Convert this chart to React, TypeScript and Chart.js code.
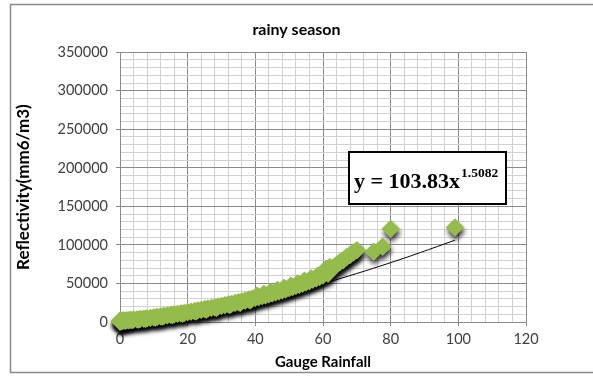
import React, { useEffect, useRef } from 'react';
import { Chart, registerables } from 'chart.js';

Chart.register(...registerables);

// Scatter data: gauge rainfall vs reflectivity
const rainfall = [
  0, 0, 0.2, 0.5, 0.8, 1, 1.5, 2, 2.5, 3, 3.5, 4, 5, 5.5, 6, 7, 7.5, 8, 9, 10,
  10.5, 11, 12, 12.5, 13, 14, 15, 15.5, 16, 17, 18, 18.5, 19, 20, 21, 22, 22.5, 23, 24, 25,
  25.5, 26, 27, 28, 28.5, 29, 30, 31, 32, 32.5, 33, 34, 35, 35.5, 36, 37, 38, 38.5, 39, 40,
  40.5, 41, 42, 42.5, 43, 44, 44.5, 45, 46, 46.5, 47, 48, 48.5, 49, 50, 50.5, 51, 52, 52.5, 53,
  54, 54.5, 55, 56, 56.5, 57, 58, 58.5, 59, 60, 60.5, 61, 61.5, 62, 63, 64, 65, 66, 67, 68,
  69, 70, 75, 77.6, 80, 99,
];
const reflectivity = [
  0, 1200, 2000, 600, 1500, 1800, 1200, 2200, 1900, 2600, 2300, 2900, 3300, 3000, 3800, 4200, 3900, 4700, 5200, 5900,
  5600, 6500, 7100, 6800, 7700, 8300, 9000, 8600, 9700, 10300, 11100, 10600, 11800, 12500, 13200, 14000, 13500, 14800, 15500, 16400,
  15800, 17200, 18000, 18900, 18300, 19800, 20700, 21600, 22600, 21900, 23500, 24500, 25500, 24700, 26600, 27700, 28800, 28000, 29900, 31000,
  34000, 32100, 33300, 36300, 34500, 35700, 38700, 37000, 38300, 41500, 39600, 40900, 44000, 42300, 43700, 47000, 45100, 46600, 50000, 48100,
  49700, 53500, 51300, 53000, 56500, 54700, 56500, 60000, 58300, 60200, 65500, 69000, 62500, 71000, 70000, 74000, 77500, 80000, 84000, 87000,
  90000, 93000, 91000, 97500, 120500, 122500,
];

// Power trend line y = 103.83x^1.5082
const trendX = [0.5, 2, 5, 10, 15, 20, 25, 30, 35, 40, 45, 50, 55, 60, 65, 70, 75, 80, 85, 90, 95, 99];
const trendY = [36, 295, 1176, 3347, 6168, 9520, 13330, 17550, 22140, 27070, 32340, 37900, 43760, 49880, 56280, 62930, 69830, 77000, 84350, 92010, 99810, 106100];

const chartTitle = 'rainy season';
const xTitle = 'Gauge Rainfall';
const yTitle = 'Reflectivity(mm6/m3)';
const eqMain = 'y = 103.83x';
const eqExp = '1.5082';

const xMin = 0, xMax = 120, xMinor = 4, xMajor = 20;
const yMin = 0, yMax = 350000, yMinor = 10000, yMajor = 50000;

const MAJOR = '#8a8a8a';
const MINOR = '#d2d2d2';
const GREEN = '#94bb4c';

export default function App() {
  const ref = useRef<HTMLCanvasElement>(null);

  useEffect(() => {
    document.body.style.margin = '0';
    const canvas = ref.current;
    if (!canvas) return;

    // draw all marker shadows first, then the markers themselves on top
    const shadowPlugin = {
      id: 'markerShadow',
      beforeDatasetDraw(chart: any, args: any) {
        if (args.index !== 0) return;
        const c = chart.ctx;
        const meta = chart.getDatasetMeta(0);
        c.save();
        c.shadowColor = 'rgba(0,0,0,0.8)';
        c.shadowBlur = 5;
        c.shadowOffsetX = 1;
        c.shadowOffsetY = 4;
        meta.data.forEach((el: any) => el.draw(c, chart.chartArea));
        c.restore();
      },
    };

    const decorPlugin = {
      id: 'decor',
      beforeDraw(chart: any) {
        const c = chart.ctx;
        c.save();
        c.fillStyle = '#ffffff';
        c.fillRect(0, 0, chart.width, chart.height);
        c.strokeStyle = '#8c8c8c';
        c.lineWidth = 1.5;
        c.strokeRect(10.5, 4.5, chart.width + 20, 368);
        c.restore();
      },
      afterDraw(chart: any) {
        const c = chart.ctx;
        c.save();
        const bx = 349, by = 152, bw = 157, bh = 52;
        c.fillStyle = '#ffffff';
        c.fillRect(bx, by, bw, bh);
        c.strokeStyle = '#000000';
        c.lineWidth = 2;
        c.strokeRect(bx, by, bw, bh);
        c.fillStyle = '#000000';
        c.textBaseline = 'alphabetic';
        c.textAlign = 'left';
        c.font = 'bold 22px "Liberation Serif", "DejaVu Serif", serif';
        c.fillText(eqMain, 354, 188);
        const w = c.measureText(eqMain).width;
        c.font = 'bold 13.5px "Liberation Serif", "DejaVu Serif", serif';
        c.fillText(eqExp, 354 + w + 1, 177);
        c.restore();
      },
    };

    const chart = new Chart(canvas, {
      type: 'scatter',
      data: {
        datasets: [
          {
            label: 'data',
            data: rainfall.map((x, i) => ({ x, y: reflectivity[i] })),
            pointStyle: 'rectRot',
            pointRadius: 9,
            pointHoverRadius: 9,
            backgroundColor: GREEN,
            borderColor: GREEN,
            pointBorderWidth: 0,
            borderWidth: 0,
            clip: false,
          } as any,
          {
            label: 'trend',
            type: 'line',
            data: trendX.map((x, i) => ({ x, y: trendY[i] })),
            borderColor: '#000000',
            borderWidth: 1,
            pointRadius: 0,
            fill: false,
            tension: 0.3,
            clip: false,
          } as any,
        ],
      },
      options: {
        animation: false,
        responsive: false,
        events: [],
        layout: { padding: 0 },
        plugins: {
          legend: { display: false },
          tooltip: { enabled: false },
          title: {
            display: true,
            text: chartTitle,
            color: '#000000',
            font: { family: 'Lato', size: 16, weight: 700 },
            padding: { top: 20, bottom: 13 },
          },
        },
        scales: {
          x: {
            type: 'linear',
            min: xMin,
            max: xMax,
            afterFit(s: any) { s.height = 54; },
            ticks: {
              stepSize: xMinor,
              autoSkip: false,
              maxRotation: 0,
              padding: 5,
              color: '#404040',
              font: { family: 'Lato', size: 14.5 },
              callback: (v: any) => (Number(v) % xMajor === 0 ? String(v) : ''),
            },
            grid: {
              color: (ctx: any) => (ctx.tick && ctx.tick.value % xMajor === 0 ? MAJOR : MINOR),
              tickColor: (ctx: any) => (ctx.tick && ctx.tick.value % xMajor === 0 ? MAJOR : 'rgba(0,0,0,0)'),
              tickLength: 4,
              lineWidth: 1,
            },
            border: { display: true, color: MAJOR, width: 1 },
            title: {
              display: true,
              text: xTitle,
              color: '#000000',
              font: { family: 'Lato', size: 15, weight: 700 },
              padding: { top: 0, bottom: 5 },
            },
          },
          y: {
            type: 'linear',
            min: yMin,
            max: yMax,
            afterFit(s: any) { s.width = 120; },
            ticks: {
              stepSize: yMinor,
              autoSkip: false,
              padding: 8,
              color: '#404040',
              font: { family: 'Lato', size: 14.5 },
              callback: (v: any) => (Number(v) % yMajor === 0 ? String(v) : ''),
            },
            grid: {
              color: (ctx: any) => (ctx.tick && ctx.tick.value % yMajor === 0 ? MAJOR : MINOR),
              tickColor: (ctx: any) => (ctx.tick && ctx.tick.value % yMajor === 0 ? MAJOR : 'rgba(0,0,0,0)'),
              tickLength: 4,
              lineWidth: 1,
            },
            border: { display: true, color: MAJOR, width: 1 },
            title: {
              display: true,
              text: yTitle,
              color: '#000000',
              font: { family: 'Lato', size: 17, weight: 700 },
              padding: { top: 13, bottom: 0 },
            },
          },
          yR: {
            type: 'linear',
            position: 'right',
            display: true,
            afterFit(s: any) { s.width = 67; },
            grid: { display: false },
            border: { display: false },
            ticks: { display: false },
          },
        },
      } as any,
      plugins: [shadowPlugin, decorPlugin],
    });

    return () => chart.destroy();
  }, []);

  return <canvas ref={ref} width={593} height={376} style={{ display: 'block' }} />;
}
